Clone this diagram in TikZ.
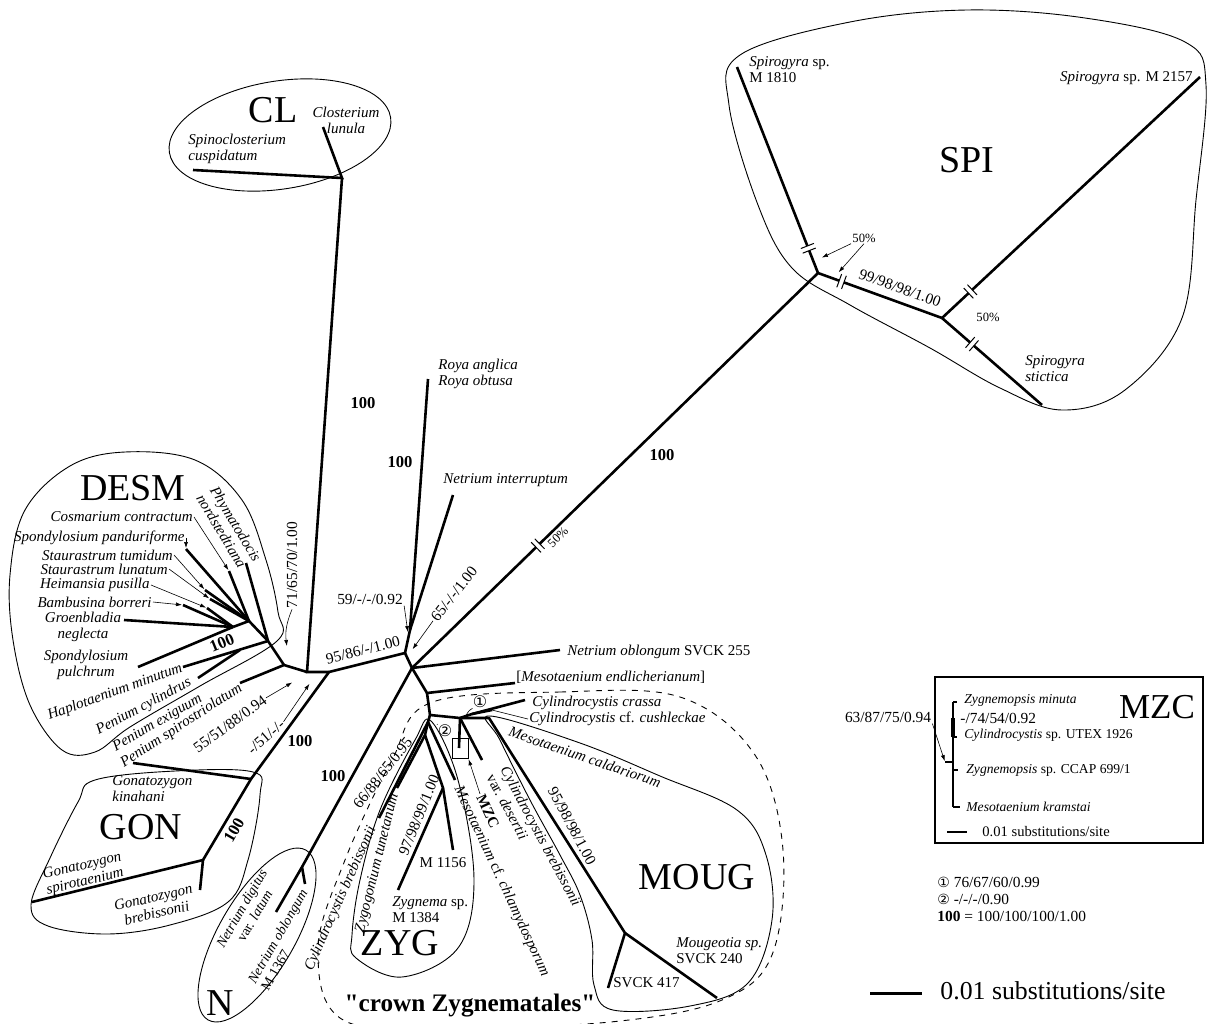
\documentclass[tikz,border=0pt]{standalone}
\usepackage{fontspec}
\setmainfont{Liberation Serif}
\newfontfamily\symfont{DejaVu Sans}
\newfontfamily\quotefont{Liberation Serif}[Ligatures=TeXOff]
\usetikzlibrary{arrows.meta, decorations.markings}
\tikzset{branch/.style={line width=1.3pt}}
\tikzset{hull/.style={line width=0.45pt}}
\tikzset{thinlead/.style={line width=0.3pt}}
\tikzset{leader/.style={line width=0.3pt, -{Latex[length=3pt, width=2pt]}, shorten >=0.5pt}}
\tikzset{taxon/.style={font=\fontsize{7.5}{8}\selectfont\itshape, inner sep=0.5pt}}
\tikzset{mzctaxon/.style={font=\fontsize{6.8}{8}\selectfont\itshape, inner sep=0.5pt}}
\tikzset{support/.style={font=\fontsize{7.7}{9}\selectfont, inner sep=0.5pt}}
\tikzset{boot/.style={font=\fontsize{8.3}{9}\selectfont\bfseries, inner sep=0.5pt}}
\tikzset{clade/.style={font=\fontsize{19}{20}\selectfont, inner sep=0pt}}
\tikzset{pct/.style={font=\fontsize{6.3}{7}\selectfont, inner sep=0.5pt}}
\tikzset{symlabel/.style={font=\symfont\fontsize{8}{8}\selectfont, inner sep=0pt}}
\tikzset{brokenat/.style={postaction={decorate, decoration={markings, mark=at position #1 with {\fill[white] (-2.5,-7) rectangle (2.5,7); \draw[line width=0.5pt] (-2.5,-7) -- (-2.5,7) (2.5,-7) -- (2.5,7);}}}}}
\begin{document}
\begin{tikzpicture}[x=0.5pt, y=-0.5pt]
\useasboundingbox (0,0) rectangle (1210,1023);

\draw[hull, rotate around={9:(280,135)}] (280,135) ellipse [x radius=112, y radius=54];
\draw[hull] plot[smooth cycle, tension=0.6] coordinates {(10,575) (25,510) (70,466) (125,452) (195,460) (242,500) (266,560) (278,612) (277,641) (200,686) (130,727) (95,752) (62,750) (30,705) (13,640)};
\draw[hull] plot[smooth cycle, tension=0.6] coordinates {(95,780) (175,771) (253,772) (260,795) (248,860) (228,902) (170,925) (107,934) (48,926) (31,905) (50,858) (78,802)};
\draw[hull, rotate around={60:(257,935)}] (257,935) ellipse [x radius=98, y radius=38];
\draw[hull] plot[smooth cycle, tension=0.6] coordinates {(740,55) (850,22) (967,10) (1085,18) (1185,42) (1206,85) (1196,200) (1182,318) (1125,390) (1062,410) (1000,388) (930,348) (850,305) (792,268) (758,205) (729,105)};
\draw[hull, dashed] plot[smooth cycle, tension=0.6] coordinates {(430,703) (560,692) (680,697) (755,755) (783,850) (772,955) (722,1000) (620,1021) (470,1028) (345,1021) (318,950) (345,860) (392,760)};
\draw[hull] plot[smooth cycle, tension=0.6] coordinates {(431,721) (458,780) (474,880) (458,948) (402,977) (356,958) (352,935) (360,880) (380,810) (415,740)};
\draw[hull] plot[smooth cycle, tension=0.6] coordinates {(490,716) (580,743) (660,776) (737,810) (766,855) (772,920) (748,983) (690,1006) (613,1010) (594,985) (592,940) (580,895) (560,855) (530,800) (500,740)};

\coordinate (cl) at (342,178);
\coordinate (clA) at (323,127);
\coordinate (clB) at (193,170);
\coordinate (c0) at (307,672);
\coordinate (c1) at (329,672);
\coordinate (d0) at (284,665);
\coordinate (d1) at (268,641);
\coordinate (d2) at (233,627);
\coordinate (d3) at (249,621);
\coordinate (tPhy) at (246,563);
\coordinate (tCos) at (229,571);
\coordinate (tSpp) at (186,549);
\coordinate (tStt) at (205,590);
\coordinate (tStl) at (210,599);
\coordinate (tHei) at (207,608);
\coordinate (tBam) at (183,605);
\coordinate (tGro) at (124,620);
\coordinate (tSpu) at (138,667);
\coordinate (tHap) at (183,667);
\coordinate (hc) at (240,650);
\coordinate (tPcy) at (198,678);
\coordinate (tPsp) at (240,683);
\coordinate (g0) at (251,779);
\coordinate (g1) at (203,860);
\coordinate (tGki) at (133,763);
\coordinate (tGsp) at (32,902);
\coordinate (tGbr) at (200,890);
\coordinate (j1) at (405,653);
\coordinate (r0) at (410,630);
\coordinate (tRoy) at (428,379);
\coordinate (tNin) at (453,495);
\coordinate (j2) at (412,668);
\coordinate (tNob) at (560,650);
\coordinate (s1) at (818,273);
\coordinate (s2) at (942,318);
\coordinate (tM18) at (737,67);
\coordinate (tM21) at (1200,77);
\coordinate (tSst) at (1042,405);
\coordinate (j3) at (427,693);
\coordinate (tMen) at (515,683);
\coordinate (j4) at (430,715);
\coordinate (j5) at (460,718);
\coordinate (jm) at (489,718);
\coordinate (jc) at (472,714);
\coordinate (tCcr) at (525,700);
\coordinate (tCcu) at (492,710);
\coordinate (tMZC) at (459,748);
\coordinate (tCbd) at (482,760);
\coordinate (m0) at (625,933);
\coordinate (tS417) at (608,988);
\coordinate (tS240) at (717,998);
\coordinate (zy0) at (428,722);
\coordinate (zy2) at (425,735);
\coordinate (zy1) at (443,788);
\coordinate (tCbz) at (379,818);
\coordinate (tZyt) at (397,788);
\coordinate (tMch) at (455,780);
\coordinate (tZyg) at (398,890);
\coordinate (tM56) at (453,850);
\coordinate (nn) at (302,867);
\coordinate (tNdl) at (276,912);
\coordinate (tNom) at (305,884);

\draw[branch] (clB) -- (cl) -- (clA);
\draw[branch] (cl) -- (c0) -- (c1);
\draw[branch] (c0) -- (d0) -- (tPsp);
\draw[branch] (d0) -- (d1) -- (tHap);
\draw[branch] (hc) -- (tPcy);
\draw[branch] (d1) -- (tPhy);
\draw[branch] (d1) -- (d3) -- (d2);
\foreach \t in {tCos, tSpp, tStt, tStl}
    \draw[branch] (d3) -- (\t);
\foreach \t in {tHei, tBam, tGro, tSpu}
    \draw[branch] (d2) -- (\t);
\draw[branch] (c1) -- (g0) -- (g1) -- (tGsp);
\draw[branch] (g1) -- (tGbr);
\draw[branch] (g0) -- (tGki);
\draw[branch] (c1) -- (j1) -- (r0) -- (tRoy);
\draw[branch] (r0) -- (tNin);
\draw[branch] (j1) -- (j2) -- (tNob);
\draw[branch] (j2) -- (nn) -- (tNdl);
\draw[branch] (nn) -- (tNom);
\draw[branch, brokenat=0.31] (j2) -- (s1);
\draw[branch, brokenat=0.12] (s1) -- (tM18);
\draw[branch, brokenat=0.19] (s1) -- (s2);
\draw[branch, brokenat=0.11] (s2) -- (tM21);
\draw[branch, brokenat=0.30] (s2) -- (tSst);
\draw[branch] (j2) -- (j3) -- (tMen);
\draw[branch] (j3) -- (j4) -- (j5) -- (jm) -- (m0) -- (tS417);
\draw[branch] (m0) -- (tS240);
\draw[branch] (j5) -- (jc) -- (tCcr);
\draw[branch] (jc) -- (tCcu);
\draw[branch] (j5) -- (tMZC);
\draw[branch] (j5) -- (tCbd);
\draw[branch] (j4) -- (zy0) -- (tCbz);
\draw[branch] (zy0) -- (zy2) -- (tZyt);
\draw[branch] (zy2) -- (zy1) -- (tZyg);
\draw[branch] (zy1) -- (tM56);
\draw[branch] (zy0) -- (tMch);

\node[clade] (labCL) at (273,110) {CL};
\node[taxon, align=center] (labClo) at (346,120) {Closterium\\lunula};
\node[taxon, align=left, anchor=west] (labSpi) at (187,149) {Spinoclosterium\\cuspidatum};
\node[boot] (labCL100) at (363,403) {100};

\node[clade] (labDESM) at (133,488) {DESM};
\node[taxon, align=left, rotate=-59] (labPhy) at (229,528) {Phymatodocis\\nordstedtiana};
\node[taxon, anchor=east] (labCos) at (194,517) {Cosmarium contractum};
\node[taxon, anchor=east] (labSpp) at (186,538) {Spondylosium panduriforme};
\node[taxon, anchor=east] (labStt) at (174,555) {Staurastrum tumidum};
\node[taxon, anchor=east] (labStl) at (169,569) {Staurastrum lunatum};
\node[taxon, anchor=east] (labHei) at (151,585) {Heimansia pusilla};
\node[taxon, anchor=east] (labBam) at (153,602) {Bambusina borreri};
\node[taxon, align=center] (labGro) at (83,627) {Groenbladia\\neglecta};
\node[taxon, align=center] (labSpu) at (86,665) {Spondylosium\\pulchrum};
\node[taxon, rotate=20, anchor=west] (labHap) at (47,717) {Haplotaenium minutum};
\node[taxon, rotate=28, anchor=west] (labPcy) at (96,732) {Penium cylindrus};
\node[taxon, rotate=30, anchor=west] (labPex) at (113,749) {Penium exiguum};
\node[taxon, rotate=33, anchor=west] (labPsp) at (121,765) {Penium spirostriolatum};
\node[boot, rotate=22] (labD100) at (222,643) {100};
\node[support, rotate=90] (lab71) at (292,565) {71/65/70/1.00};
\node[support, rotate=36] (lab55) at (230,724) {55/51/88/0.94};
\node[support, rotate=41] (lab51) at (266,737) {-/51/-/-};
\coordinate (a71) at (287,647);
\coordinate (a55) at (293,682);
\coordinate (a51) at (310,683);
\draw[leader] (labCos.east) -- (tCos);
\draw[leader] (labSpp.east) -- (tSpp);
\draw[leader] (labStt.east) -- (tStt);
\draw[leader] (labStl.east) -- (tStl);
\draw[leader] (labHei.east) -- (tHei);
\draw[leader] (labBam.east) -- (tBam);
\draw[leader] (lab71.west) to[bend right=15] (a71);
\draw[leader] (lab55.east) -- (a55);
\draw[leader] (lab51.east) -- (a51);

\node[taxon, align=left, anchor=west] (labGki) at (111,789) {Gonatozygon\\kinahani};
\node[clade] (labGON) at (141,827) {GON};
\node[taxon, align=left, rotate=13] (labGsp) at (84,874) {Gonatozygon\\spirotaenium};
\node[taxon, align=center, rotate=13] (labGbr) at (155,905) {Gonatozygon\\brebissonii};
\node[boot, rotate=60] (labG100) at (234,830) {100};
\node[boot] (labGON100) at (300,741) {100};

\node[taxon, font=\fontsize{7}{7.5}\selectfont\itshape, align=center, rotate=60] (labNdl) at (248,912) {Netrium digitus\\\upshape var. \itshape latum};
\node[taxon, font=\fontsize{7}{7.5}\selectfont\itshape, align=left, rotate=60] (labNom) at (284,940) {Netrium oblongum\\\upshape M 1367};
\node[clade] (labN) at (220,1003) {N};
\node[boot] (labN100) at (333,776) {100};

\node[taxon, align=left, anchor=west, font=\fontsize{7.5}{6.8}\selectfont\itshape] (labRoy) at (437,374) {Roya anglica\\Roya obtusa};
\node[boot] (labR100) at (400,462) {100};
\node[taxon, anchor=west] (labNin) at (442,480) {Netrium interruptum};
\node[support] (lab59) at (370,599) {59/-/-/0.92};
\node[support, rotate=52] (lab65) at (454,594) {65/-/-/1.00};
\node[support, rotate=14] (lab95) at (363,650) {95/86/-/1.00};
\coordinate (a59) at (408,633);
\coordinate (a65) at (412,650);
\draw[leader] (lab59.south east) -- (a59);
\draw[leader] (lab65.west) -- (a65);
\node[taxon, anchor=west] (labNob) at (566,652) {Netrium oblongum \upshape SVCK 255};
\node[taxon, anchor=west] (labMen) at (515,677) {\upshape[\itshape Mesotaenium endlicherianum\upshape]};
\node[boot] (labS100) at (662,455) {100};
\node[pct, rotate=45] (labP1) at (558,537) {50\%};

\node[clade] (labSPI) at (967,160) {SPI};
\node[taxon, align=left, anchor=north west] (labM18) at (748,55) {Spirogyra \upshape sp.\\\upshape M 1810};
\node[taxon, anchor=east] (labM21) at (1194,78) {Spirogyra \upshape sp. M 2157};
\node[taxon, align=left, anchor=west] (labSst) at (1024,369) {Spirogyra\\stictica};
\node[support, rotate=-20] (lab99) at (900,288) {99/98/98/1.00};
\node[pct] (labP2) at (864,238) {50\%};
\node[pct] (labP3) at (988,317) {50\%};
\coordinate (a50a) at (821,258);
\coordinate (a50b) at (838,273);
\draw[leader] (labP2.south west) -- (a50a);
\draw[leader] (labP2.south) -- (a50b);

\node[symlabel] (labC1) at (480,702) {①};
\node[symlabel] (labC2) at (445,731) {②};
\coordinate (a1) at (466,716);
\coordinate (a2) at (437,724);
\draw[thinlead] (labC1.south west) to[bend right=20] (a1);
\draw[thinlead] (labC2.north west) -- (a2);
\node[taxon, anchor=west] (labCcr) at (531,703) {Cylindrocystis crassa};
\node[taxon, anchor=west] (labCcu) at (528,719) {Cylindrocystis \upshape cf. \itshape cushleckae};
\draw[thinlead] (labCcu.west) -- (tCcu);
\node[taxon, rotate=-19] (labMca) at (585,757) {Mesotaenium caldariorum};
\node[taxon, align=left, anchor=west, rotate=-62] (labCbd) at (497,770) {Cylindrocystis brebissonii\\\upshape var. \itshape desertii};
\node[draw, line width=0.3pt, minimum width=8pt, minimum height=10pt, inner sep=0pt] (mzcbox) at (460,748) {};
\node[font=\fontsize{7.5}{8}\selectfont\bfseries, rotate=-65, inner sep=0.5pt] (labMZC) at (488,811) {MZC};
\draw[leader] (labMZC.west) -- (mzcbox.south east);
\node[taxon, anchor=west, rotate=-65] (labMch) at (457,786) {Mesotaenium \upshape cf. \itshape chlamydosporum};
\node[support, anchor=east, rotate=52] (lab66) at (410,738) {66/88/65/0.95};
\node[taxon, anchor=east, rotate=76] (labZyt) at (395,793) {Zygogonium tunetanum};
\node[taxon, anchor=east, rotate=66] (labCbz) at (373,826) {Cylindrocystis brebissonii};
\node[support, rotate=68] (lab97) at (419,815) {97/98/99/1.00};
\node[taxon] (labM56) at (443,863) {\upshape M 1156};
\node[taxon, align=left, anchor=west] (labZyg) at (391,910) {Zygnema \upshape sp.\\\upshape M 1384};
\node[clade] (labZYG) at (400,943) {ZYG};
\node[font=\quotefont\fontsize{12.6}{13}\selectfont\bfseries, inner sep=0pt] (labCrown) at (470,1006) {"crown Zygnematales"};
\node[support, rotate=-62] (lab95m) at (572,826) {95/98/98/1.00};
\node[clade] (labMOUG) at (697,877) {MOUG};
\node[taxon, align=left, anchor=west] (labS240) at (675,951) {Mougeotia sp.\\\upshape SVCK 240};
\node[taxon, anchor=west] (labS417) at (612,983) {\upshape SVCK 417};

\draw[line width=0.6pt] (935,677) rectangle (1203,843);
\coordinate (mzr) at (945,762);
\coordinate (mzv) at (953,762);
\coordinate (mzT) at (953,702);
\coordinate (mzB) at (953,807);
\coordinate (mzk1) at (953,718);
\coordinate (mzk2) at (953,737);
\draw[line width=0.6pt] (mzT) -- (mzB);
\draw[line width=0.6pt] (mzr) -- (mzv);
\draw[line width=1.6pt] (mzk1) -- (mzk2);
\draw[line width=0.6pt] (mzT) -- ++(4,0) (mzk2) -- ++(4,0) (953,770) -- ++(5,0) (mzB) -- ++(7,0);
\node[mzctaxon, anchor=west] (labZmi) at (963,700) {Zygnemopsis minuta};
\node[support, anchor=west] (lab74) at (959,718) {-/74/54/0.92};
\node[mzctaxon, anchor=west] (labCsp) at (963,735) {Cylindrocystis \upshape sp. UTEX 1926};
\node[mzctaxon, anchor=west] (labZcc) at (965,770) {Zygnemopsis \upshape sp. CCAP 699/1};
\node[mzctaxon, anchor=west] (labMkr) at (965,807) {Mesotaenium kramstai};
\node[clade, font=\fontsize{17.5}{18}\selectfont] (labMZCbox) at (1157,707) {MZC};
\node[support] (lab63) at (888,717) {63/87/75/0.94};
\draw[leader] (lab63.south east) -- (mzr);
\coordinate (isb0) at (947,832);
\coordinate (isb1) at (967,832);
\draw[line width=0.6pt] (isb0) -- (isb1);
\node[font=\fontsize{7.3}{8}\selectfont, anchor=west, inner sep=0.5pt] (labIsb) at (981,832) {0.01 substitutions/site};

\node[support, anchor=west] (leg1) at (936,882) {{\symfont\fontsize{7}{8}\selectfont ①} 76/67/60/0.99};
\node[support, anchor=west] (leg2) at (936,899) {{\symfont\fontsize{7}{8}\selectfont ②} -/-/-/0.90};
\node[support, anchor=west] (leg3) at (936,916) {\textbf{100} = 100/100/100/1.00};

\coordinate (sb0) at (870,993);
\coordinate (sb1) at (922,993);
\draw[line width=1.5pt] (sb0) -- (sb1);
\node[font=\fontsize{12.9}{14}\selectfont, anchor=west, inner sep=0pt] (labScale) at (940,991) {0.01 substitutions/site};
\end{tikzpicture}
\end{document}
